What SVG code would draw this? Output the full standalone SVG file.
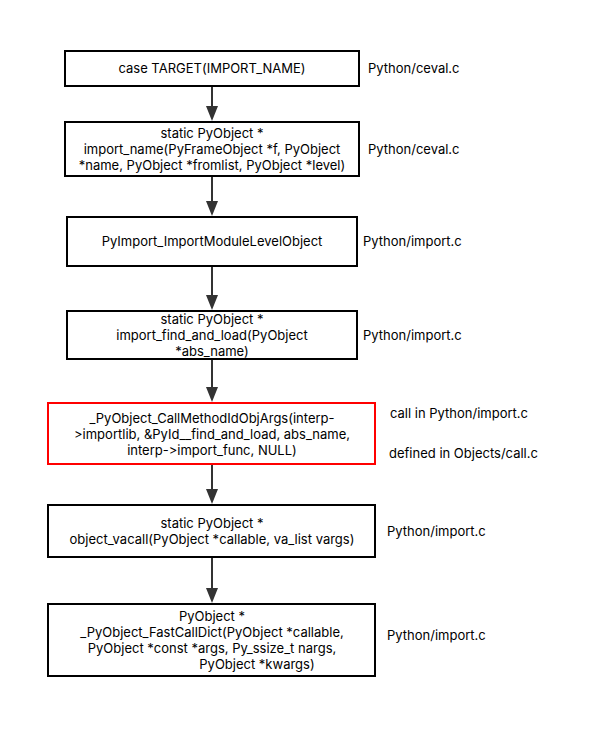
<svg xmlns="http://www.w3.org/2000/svg" width="608" height="737" viewBox="0 0 608 737">
<style>
.box{fill:#fff;stroke:#000;stroke-width:2}
.red{fill:#fff;stroke:#ff0000;stroke-width:2}
text{font-family:Inter,"Liberation Sans","DejaVu Sans",sans-serif;font-size:13px;fill:#000;font-variant-ligatures:none;font-feature-settings:"calt" 0,"liga" 0}
.c{text-anchor:middle}
.edge{stroke:#333;stroke-width:2;fill:none}
</style>
<rect width="608" height="737" fill="#fff"/>
<g id="connectors">
<line class="edge" x1="212" y1="86" x2="212" y2="106"/><path d="M206,106 L218,106 L212,121 Z" fill="#333"/>
<line class="edge" x1="212" y1="176" x2="212" y2="201"/><path d="M206,201 L218,201 L212,216 Z" fill="#333"/>
<line class="edge" x1="212" y1="266" x2="212" y2="295"/><path d="M206,295 L218,295 L212,310 Z" fill="#333"/>
<line class="edge" x1="212" y1="359" x2="212" y2="387"/><path d="M206,387 L218,387 L212,402 Z" fill="#333"/>
<line class="edge" x1="212" y1="464" x2="212" y2="489"/><path d="M206,489 L218,489 L212,504 Z" fill="#333"/>
<line class="edge" x1="212" y1="557" x2="212" y2="588"/><path d="M206,588 L218,588 L212,603 Z" fill="#333"/>
</g>
<g id="n1">
<rect class="box" x="65" y="51" width="294" height="35"/>
<text class="c" x="212" y="73">case TARGET(IMPORT_NAME)</text>
<text x="368" y="73">Python/ceval.c</text>
</g>
<g id="n2">
<rect class="box" x="65" y="122" width="294" height="54"/>
<text class="c" x="212" y="138">static PyObject *</text>
<text class="c" x="212" y="154">import_name(PyFrameObject *f, PyObject</text>
<text class="c" x="212" y="170">*name, PyObject *fromlist, PyObject *level)</text>
<text x="368" y="154">Python/ceval.c</text>
</g>
<g id="n3">
<rect class="box" x="67" y="217" width="290" height="49"/>
<text class="c" x="212" y="246">PyImport_ImportModuleLevelObject</text>
<text x="363" y="246">Python/import.c</text>
</g>
<g id="n4">
<rect class="box" x="67" y="311" width="290" height="48"/>
<text class="c" x="212" y="324">static PyObject *</text>
<text class="c" x="212" y="340">import_find_and_load(PyObject</text>
<text class="c" x="212" y="356">*abs_name)</text>
<text x="363" y="340">Python/import.c</text>
</g>
<g id="n5">
<rect class="red" x="48" y="403" width="327" height="61"/>
<text class="c" x="212" y="423">_PyObject_CallMethodIdObjArgs(interp-</text>
<text class="c" x="212" y="439">&gt;importlib, &amp;PyId__find_and_load, abs_name,</text>
<text class="c" x="212" y="455">interp-&gt;import_func, NULL)</text>
<text x="390" y="418">call in Python/import.c</text>
<text x="389" y="458">defined in Objects/call.c</text>
</g>
<g id="n6">
<rect class="box" x="48" y="505" width="327" height="52"/>
<text class="c" x="212" y="528">static PyObject *</text>
<text class="c" x="212" y="544">object_vacall(PyObject *callable, va_list vargs)</text>
<text x="387" y="536">Python/import.c</text>
</g>
<g id="n7">
<rect class="box" x="48" y="604" width="327" height="72"/>
<text class="c" x="212" y="621">PyObject *</text>
<text class="c" x="212" y="637">_PyObject_FastCallDict(PyObject *callable,</text>
<text class="c" x="212" y="653">PyObject *const *args, Py_ssize_t nargs,</text>
<text class="c" x="257" y="669">PyObject *kwargs)</text>
<text x="387" y="640">Python/import.c</text>
</g>
</svg>
